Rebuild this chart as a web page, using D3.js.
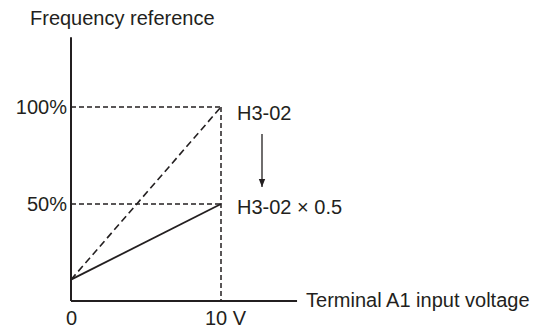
<!DOCTYPE html>
<html><head><meta charset="utf-8">
<script src="https://cdn.jsdelivr.net/npm/d3@7"></script>
<style>
html,body{margin:0;padding:0;background:#fff;}
text{font-family:"Liberation Sans",Arial,Helvetica,sans-serif;fill:#231f20;}
</style></head>
<body><svg id="c" width="544" height="331"></svg>
<script>
const voltage = [0, 10];
const defaultGainRef = [11, 100];
const halfGainRef = [11, 50];
const yTickValues = [50, 100];
const yTickLabels = ["50%", "100%"];
const xTickValues = [0, 10];
const xTickLabels = ["0", "10 V"];
const yAxisTitle = "Frequency reference";
const xAxisTitle = "Terminal A1 input voltage";
const upperLabel = "H3-02";
const lowerLabel = "H3-02 \u00d7 0.5";
const xExtent = [0, 15.07];
const yExtent = [0, 136];

const svg = d3.select("#c");
const ink = "#231f20";
const x = d3.scaleLinear().domain([0, 10]).range([71, 221]);
const y = d3.scaleLinear().domain([0, 100]).range([301, 107]);
const fs = 20;

// axes
svg.append("line").attr("x1", x(0)).attr("x2", x(0)).attr("y1", y(yExtent[1])).attr("y2", y(0))
  .attr("stroke", ink).attr("stroke-width", 2);
svg.append("line").attr("x1", x(0)).attr("x2", x(xExtent[1])).attr("y1", y(0)).attr("y2", y(0))
  .attr("stroke", ink).attr("stroke-width", 2);

// dashed guides
const dash = "5,3";
yTickValues.forEach(v => {
  svg.append("line").attr("x1", x(0)).attr("x2", x(voltage[1])).attr("y1", y(v)).attr("y2", y(v))
    .attr("stroke", ink).attr("stroke-width", 1.5).attr("stroke-dasharray", dash);
});
svg.append("line").attr("x1", x(voltage[1])).attr("x2", x(voltage[1])).attr("y1", y(100)).attr("y2", y(0))
  .attr("stroke", ink).attr("stroke-width", 1.5).attr("stroke-dasharray", dash);

const line = d3.line().x(d => x(d[0])).y(d => y(d[1]));
svg.append("path").attr("d", line(voltage.map((v, i) => [v, defaultGainRef[i]])))
  .attr("fill", "none").attr("stroke", ink).attr("stroke-width", 1.6).attr("stroke-dasharray", "7,4");
svg.append("path").attr("d", line(voltage.map((v, i) => [v, halfGainRef[i]])))
  .attr("fill", "none").attr("stroke", ink).attr("stroke-width", 1.8);

// tick labels
yTickValues.forEach((v, i) => {
  svg.append("text").attr("x", x(0) - 4).attr("y", y(v) + 7).attr("text-anchor", "end")
    .attr("font-size", fs).text(yTickLabels[i]);
});
xTickValues.forEach((v, i) => {
  svg.append("text").attr("x", i === 0 ? x(v) - 5 : x(v) - 16).attr("y", 325)
    .attr("font-size", fs).text(xTickLabels[i]);
});

// titles
svg.append("text").attr("x", 30).attr("y", 25).attr("font-size", fs).text(yAxisTitle);
svg.append("text").attr("x", x(xExtent[1]) + 9).attr("y", y(0) + 6).attr("font-size", fs).text(xAxisTitle);

// annotation
svg.append("text").attr("x", 237).attr("y", y(100) + 13).attr("font-size", fs).text(upperLabel);
svg.append("text").attr("x", 237).attr("y", y(50) + 10).attr("font-size", fs).text(lowerLabel);
svg.append("defs").append("marker").attr("id", "ah").attr("viewBox", "0 0 10 10")
  .attr("refX", 10).attr("refY", 5).attr("markerWidth", 8).attr("markerHeight", 8)
  .attr("markerUnits", "userSpaceOnUse").attr("orient", "auto")
  .append("path").attr("d", "M0,1 L10,5 L0,9 Z").attr("fill", ink);
svg.append("line").attr("x1", 262).attr("x2", 262).attr("y1", 134).attr("y2", 187)
  .attr("stroke", ink).attr("stroke-width", 1.3).attr("marker-end", "url(#ah)");
</script></body></html>
